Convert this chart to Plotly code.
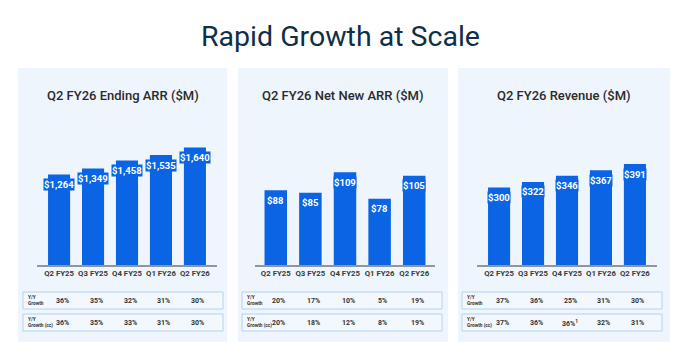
import plotly.graph_objects as go

W, H = 680, 354

quarters = ["Q2 FY25", "Q3 FY25", "Q4 FY25", "Q1 FY26", "Q2 FY26"]

arr_values = [1264, 1349, 1458, 1535, 1640]
nnarr_values = [88, 85, 109, 78, 105]
rev_values = [300, 322, 346, 367, 391]

arr_growth = ["36%", "35%", "32%", "31%", "30%"]
arr_growth_cc = ["36%", "35%", "33%", "31%", "30%"]
nnarr_growth = ["20%", "17%", "10%", "5%", "19%"]
nnarr_growth_cc = ["20%", "18%", "12%", "8%", "19%"]
rev_growth = ["37%", "36%", "25%", "31%", "30%"]
rev_growth_cc = ["37%", "36%", "36%<sup>1</sup>", "32%", "31%"]

titles = ["Q2 FY26 Ending ARR ($M)", "Q2 FY26 Net New ARR ($M)", "Q2 FY26 Revenue ($M)"]

BAR = "#0b64e3"
PANEL_BG = "#eef5fd"
TEXT = "#2b2b2b"

def px(x):
    return x / W

def py(y):
    return 1 - y / H

panels = [
    dict(values=arr_values, g1=arr_growth, g2=arr_growth_cc, box=(18, 227),
         dom=(37, 217), ymax=2025, table=(23, 223), xr=[-0.65, 4.65]),
    dict(values=nnarr_values, g1=nnarr_growth, g2=nnarr_growth_cc, box=(238, 448),
         dom=(255, 435), ymax=170.6, table=(242, 442), xr=[-0.6, 4.6]),
    dict(values=rev_values, g1=rev_growth, g2=rev_growth_cc, box=(458, 670),
         dom=(477, 657), ymax=562, table=(462, 662), xr=[-0.65, 4.65]),
]

fig = go.Figure()
shapes = []
annotations = []

plot_top, baseline = 120, 265

annotations.append(dict(
    text="Rapid Growth at Scale", x=0.5, y=py(37), xref="paper", yref="paper",
    xanchor="center", yanchor="middle", showarrow=False,
    font=dict(family="Roboto", size=28.5, color="#0e2f47"),
))

for i, p in enumerate(panels):
    n = "" if i == 0 else str(i + 1)
    xa, ya = "x" + n, "y" + n
    fig.add_trace(go.Bar(
        x=list(range(5)), y=p["values"], xaxis=xa, yaxis=ya,
        marker=dict(color=BAR, line=dict(width=0)), width=0.65,
        hoverinfo="skip", showlegend=False,
    ))
    fig.update_layout(**{
        "xaxis" + n: dict(
            domain=[px(p["dom"][0]), px(p["dom"][1])], anchor=ya,
            range=p["xr"], tickmode="array", tickvals=list(range(5)), ticktext=quarters,
            tickangle=0, automargin=False,
            showline=True, linecolor="#8e979f", linewidth=1.5, showgrid=False,
            zeroline=False, ticks="", ticklen=0,
            tickfont=dict(family="Roboto", size=7.8, color="#3a3a3a", weight="bold"),
            fixedrange=True,
        ),
        "yaxis" + n: dict(
            domain=[py(baseline), py(plot_top)], anchor=xa,
            range=[0, p["ymax"]], visible=False, showgrid=False, zeroline=False,
            fixedrange=True,
        ),
    })
    # panel background
    shapes.append(dict(type="rect", xref="paper", yref="paper",
                       x0=px(p["box"][0]), x1=px(p["box"][1]), y0=py(342), y1=py(68),
                       fillcolor=PANEL_BG, line=dict(width=0), layer="below"))
    # tables
    for (t0, t1) in [(292, 309), (314, 331)]:
        shapes.append(dict(type="rect", xref="paper", yref="paper",
                           x0=px(p["table"][0]), x1=px(p["table"][1]), y0=py(t1), y1=py(t0),
                           fillcolor="#f3f8fe", line=dict(color="#b3d2ee", width=1),
                           layer="below"))
    # panel title
    annotations.append(dict(
        text=titles[i], x=px((p["box"][0] + p["box"][1]) / 2), y=py(95),
        xref="paper", yref="paper", xanchor="center", yanchor="middle", showarrow=False,
        font=dict(family="Roboto", size=13, color=TEXT, weight=500),
    ))
    # bar value labels
    for j, v in enumerate(p["values"]):
        annotations.append(dict(
            text=f"${v:,}", x=j, y=v, xref=xa, yref=ya, yshift=-10,
            xanchor="center", yanchor="middle", showarrow=False,
            font=dict(family="Roboto", size=9.5, color="white", weight="bold"),
            bgcolor=BAR, borderpad=0,
        ))
    # row labels
    for lab, yc in [("Y/Y<br>Growth", 300.5), ("Y/Y<br>Growth (cc)", 322.5)]:
        annotations.append(dict(
            text=lab, x=px(p["table"][0] + 3), y=py(yc), xref="paper", yref="paper",
            xanchor="left", yanchor="middle", align="left", showarrow=False,
            font=dict(family="Roboto", size=4.8, color="#333333", weight="bold"),
        ))
    # growth values
    for row, yc in [(p["g1"], 300.5), (p["g2"], 322.5)]:
        for j, g in enumerate(row):
            annotations.append(dict(
                text=g, x=j, y=py(yc), xref=xa, yref="paper", xshift=3,
                xanchor="center", yanchor="middle", showarrow=False,
                font=dict(family="Roboto", size=7, color="#333333", weight="bold"),
            ))

fig.update_layout(
    width=W, height=H, margin=dict(l=0, r=0, t=0, b=0),
    paper_bgcolor="white", plot_bgcolor="rgba(0,0,0,0)",
    shapes=shapes, annotations=annotations, bargap=0.35, showlegend=False,
)

fig.write_html("out.html", config={"displayModeBar": False})
